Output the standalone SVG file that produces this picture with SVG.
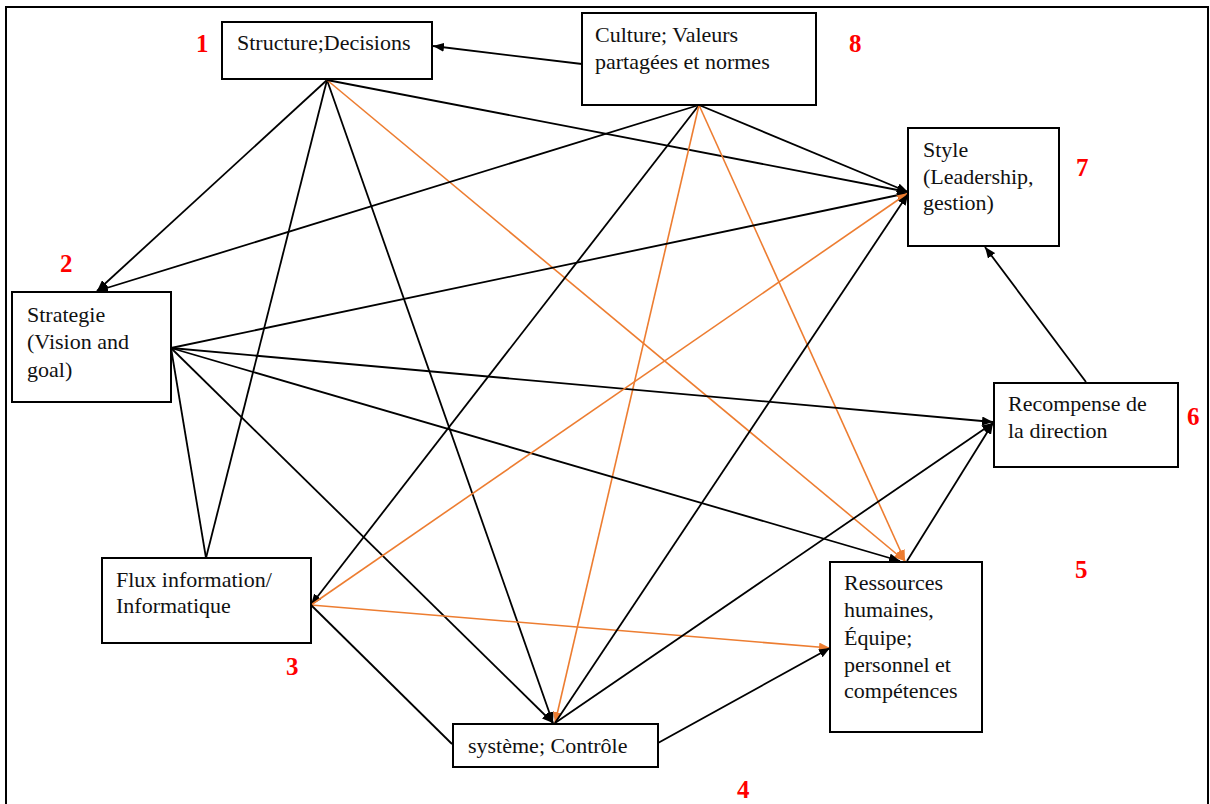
<svg xmlns="http://www.w3.org/2000/svg" width="1210" height="804" viewBox="0 0 1210 804">
  <style>
    .box { fill: #ffffff; stroke: #000000; stroke-width: 2; }
    .lbl { font-family: 'Liberation Serif', 'Times New Roman', 'DejaVu Serif', serif; font-size: 22px; fill: #111111; }
    .num { font-family: 'Liberation Serif', 'Times New Roman', 'DejaVu Serif', serif; font-size: 25px; font-weight: bold; fill: #ff0000; }
    .k { stroke: #000000; stroke-width: 1.8; fill: none; }
    .o { stroke: #ed7d31; stroke-width: 1.6; fill: none; }
    .k.a { marker-end: url(#headK); }
    .o.a { marker-end: url(#headO); }
  </style>
  <defs>
    <marker id="headK" markerUnits="userSpaceOnUse" markerWidth="11" markerHeight="9" refX="11" refY="4.5" orient="auto">
      <path d="M0,0 L11,4.5 L0,9 z" fill="#000000"/>
    </marker>
    <marker id="headO" markerUnits="userSpaceOnUse" markerWidth="11" markerHeight="9" refX="11" refY="4.5" orient="auto">
      <path d="M0,0 L11,4.5 L0,9 z" fill="#ed7d31"/>
    </marker>
  </defs>

  <rect x="0" y="0" width="1210" height="804" fill="#ffffff"/>
  <!-- outer frame -->
  <rect x="6" y="7" width="1202" height="820" fill="none" stroke="#000000" stroke-width="2"/>

  <!-- connectors -->
  <g id="connectors">
    <line class="k a" x1="582" y1="64" x2="433" y2="46"/>
    <line class="k a" x1="327" y1="80" x2="97" y2="291"/>
    <line class="k" x1="327" y1="80" x2="206" y2="558"/>
    <line class="k a" x1="327" y1="80" x2="553" y2="723"/>
    <line class="o a" x1="327" y1="80" x2="905" y2="561"/>
    <line class="k a" x1="327" y1="80" x2="908" y2="192"/>
    <line class="k a" x1="699" y1="105" x2="97" y2="291"/>
    <line class="k a" x1="699" y1="105" x2="311" y2="605"/>
    <line class="o a" x1="699" y1="105" x2="555" y2="723"/>
    <line class="o a" x1="699" y1="105" x2="905" y2="561"/>
    <line class="k a" x1="699" y1="105" x2="908" y2="192"/>
    <line class="k a" x1="171" y1="348" x2="908" y2="193"/>
    <line class="k a" x1="171" y1="348" x2="993" y2="422"/>
    <line class="k a" x1="171" y1="348" x2="900" y2="561"/>
    <line class="k a" x1="171" y1="348" x2="553" y2="723"/>
    <line class="k" x1="171" y1="348" x2="206" y2="558"/>
    <line class="o a" x1="311" y1="605" x2="908" y2="193"/>
    <line class="o a" x1="311" y1="605" x2="830" y2="648"/>
    <line class="k" x1="311" y1="605" x2="452" y2="744"/>
    <line class="k a" x1="555" y1="723" x2="908" y2="194"/>
    <line class="k a" x1="555" y1="723" x2="993" y2="423"/>
    <line class="k a" x1="658" y1="743" x2="830" y2="648"/>
    <line class="k a" x1="907" y1="561" x2="993" y2="423"/>
    <line class="k a" x1="1086" y1="382" x2="985" y2="247"/>
  </g>

  <!-- nodes -->
  <g id="structure">
    <rect class="box" x="222" y="22" width="210" height="57"/>
    <text class="lbl" x="237" y="50">Structure;Decisions</text>
    <text class="num" x="196" y="52">1</text>
  </g>
  <g id="culture">
    <rect class="box" x="582" y="13" width="234" height="92"/>
    <text class="lbl" x="595" y="42">Culture; Valeurs</text>
    <text class="lbl" x="595" y="69">partagées et normes</text>
    <text class="num" x="849" y="52">8</text>
  </g>
  <g id="style">
    <rect class="box" x="908" y="128" width="151" height="118"/>
    <text class="lbl" x="923" y="157">Style</text>
    <text class="lbl" x="923" y="184">(Leadership,</text>
    <text class="lbl" x="923" y="210">gestion)</text>
    <text class="num" x="1076" y="176">7</text>
  </g>
  <g id="strategie">
    <rect class="box" x="12" y="292" width="159" height="110"/>
    <text class="lbl" x="27" y="322">Strategie</text>
    <text class="lbl" x="27" y="349">(Vision and</text>
    <text class="lbl" x="27" y="377">goal)</text>
    <text class="num" x="60" y="272">2</text>
  </g>
  <g id="recompense">
    <rect class="box" x="994" y="383" width="184" height="84"/>
    <text class="lbl" x="1008" y="411">Recompense de</text>
    <text class="lbl" x="1008" y="438">la direction</text>
    <text class="num" x="1187" y="425">6</text>
  </g>
  <g id="flux">
    <rect class="box" x="102" y="558" width="209" height="85"/>
    <text class="lbl" x="116" y="587">Flux information/</text>
    <text class="lbl" x="116" y="613">Informatique</text>
    <text class="num" x="286" y="675">3</text>
  </g>
  <g id="systeme">
    <rect class="box" x="453" y="724" width="205" height="43"/>
    <text class="lbl" x="468" y="753">système; Contrôle</text>
    <text class="num" x="737" y="798">4</text>
  </g>
  <g id="ressources">
    <rect class="box" x="830" y="562" width="152" height="170"/>
    <text class="lbl" x="844" y="590">Ressources</text>
    <text class="lbl" x="844" y="617">humaines,</text>
    <text class="lbl" x="844" y="645">Équipe;</text>
    <text class="lbl" x="844" y="672">personnel et</text>
    <text class="lbl" x="844" y="698">compétences</text>
    <text class="num" x="1075" y="578">5</text>
  </g>
</svg>
